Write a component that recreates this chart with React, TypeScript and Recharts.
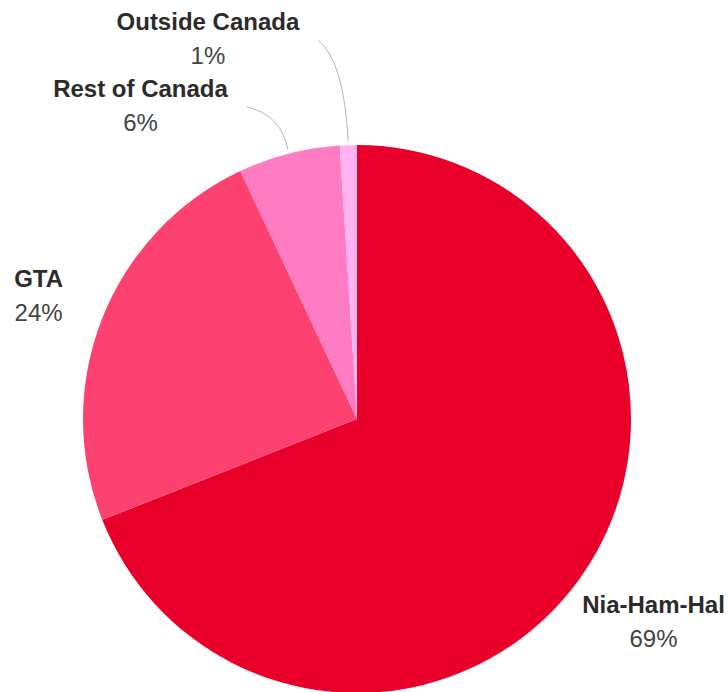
import React from "react";
import { PieChart, Pie, Cell } from "recharts";

const regions = ["Nia-Ham-Hal", "GTA", "Rest of Canada", "Outside Canada"];
const shares = [69, 24, 6, 1];
const colors = ["#e8002b", "#fd4170", "#ff7cc3", "#ffb3f2"];

const data = regions.map((name, i) => ({ name, value: shares[i] }));

const FONT = "'Liberation Sans', Arial, sans-serif";
const NAME_SIZE = 24;
const RAD = Math.PI / 180;

// how each label sits relative to its slice
const labelLayout = [
	{ connector: false, dist: 76, dx: 7, dy: 4 },
	{ connector: false, dist: 76, dx: 7, dy: 4 },
	{ connector: true, dist: 4, dx: -41, dy: -43 },
	{ connector: true, dist: 4, dx: -30, dy: -101 },
];

let measureCtx: CanvasRenderingContext2D | null = null;
function textWidth(str: string) {
	if (!measureCtx) measureCtx = document.createElement("canvas").getContext("2d");
	if (!measureCtx) return str.length * NAME_SIZE * 0.6;
	measureCtx.font = `bold ${NAME_SIZE}px ${FONT}`;
	return measureCtx.measureText(str).width;
}

function renderLabel(p: any) {
	const { cx, cy, midAngle, outerRadius, index, name, value } = p;
	const cfg = labelLayout[index];
	const cos = Math.cos(-midAngle * RAD);
	const sin = Math.sin(-midAngle * RAD);
	const r = outerRadius + cfg.dist;

	if (!cfg.connector) {
		const x = cx + r * cos + cfg.dx;
		const y = cy + r * sin + cfg.dy;
		return (
			<g key={`lbl-${index}`}>
				<text x={x} y={y - 7} textAnchor="middle" fontFamily={FONT} fontSize={NAME_SIZE} fontWeight="bold" fill="#2b2b2b">
					{name}
				</text>
				<text x={x} y={y + 27} textAnchor="middle" fontFamily={FONT} fontSize={NAME_SIZE} fill="#444">
					{value}%
				</text>
			</g>
		);
	}

	const sx = cx + r * cos;
	const sy = cy + r * sin;
	const ex = sx + cfg.dx;
	const ey = sy + cfg.dy;
	const qx = sx - 0.15 * (sx - ex);
	const qy = ey + 0.2 * (sy - ey);
	const tx = ex - 19 - textWidth(name) / 2;
	return (
		<g key={`lbl-${index}`}>
			<path d={`M${sx},${sy} Q${qx},${qy} ${ex},${ey}`} stroke="#b5b5b5" strokeWidth={1} fill="none" />
			<text x={tx} y={ey - 10} textAnchor="middle" fontFamily={FONT} fontSize={NAME_SIZE} fontWeight="bold" fill="#2b2b2b">
				{name}
			</text>
			<text x={tx} y={ey + 24} textAnchor="middle" fontFamily={FONT} fontSize={NAME_SIZE} fill="#444">
				{value}%
			</text>
		</g>
	);
}

export default function App() {
	return (
		<div style={{ position: "absolute", left: 0, top: 0, width: 728, height: 692, background: "#fff", overflow: "hidden" }}>
			<PieChart width={728} height={692} margin={{ top: 0, right: 0, bottom: 0, left: 0 }}>
				<Pie
					data={data}
					dataKey="value"
					nameKey="name"
					cx={357}
					cy={419}
					outerRadius={274}
					startAngle={90}
					endAngle={-270}
					stroke="none"
					label={renderLabel}
					labelLine={false}
					isAnimationActive={false}
				>
					{data.map((entry, i) => (
						<Cell key={`cell-${entry.name}`} fill={colors[i]} />
					))}
				</Pie>
			</PieChart>
		</div>
	);
}
